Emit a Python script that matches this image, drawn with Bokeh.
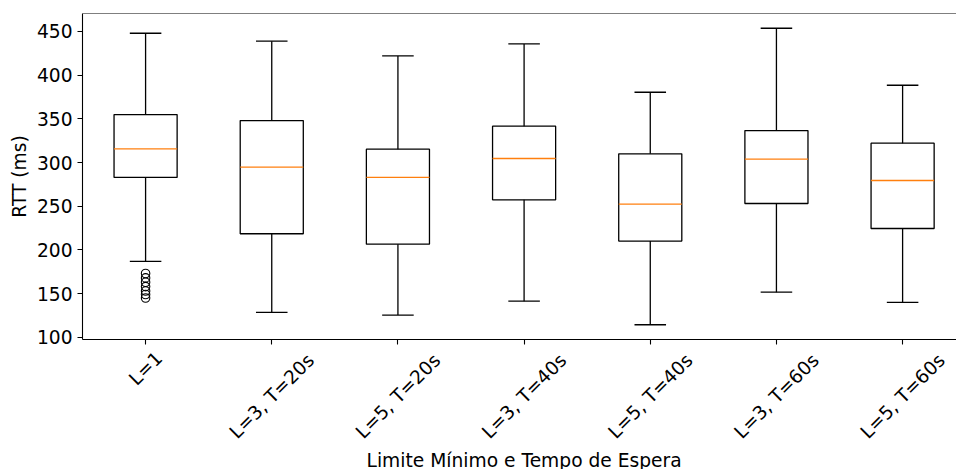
import math
from bokeh.plotting import figure
from bokeh.layouts import column
from bokeh.models import Range1d, FixedTicker, Span, ColumnDataSource
from bokeh.core.properties import value
from bokeh.embed import file_html
from bokeh.resources import INLINE

# ---- data ----
categories = ["L=1", "L=3, T=20s", "L=5, T=20s", "L=3, T=40s",
              "L=5, T=40s", "L=3, T=60s", "L=5, T=60s"]
whisker_low = [186.8, 128.5, 125.4, 141.4, 114.4, 151.7, 139.9]
q1 = [282.9, 218.5, 206.6, 257.3, 210.1, 253.1, 224.5]
median = [315.7, 294.7, 282.9, 304.6, 252.4, 303.8, 279.4]
q3 = [354.9, 348.0, 315.3, 341.6, 309.9, 336.6, 322.1]
whisker_high = [447.9, 438.8, 422.0, 435.7, 380.4, 453.6, 388.4]
outlier_group = [1, 1, 1, 1, 1, 1, 1]
outlier_values = [145, 149, 153, 158, 163, 168, 173]
y_ticks = [100, 150, 200, 250, 300, 350, 400, 450]
x_title = "Limite Mínimo e Tempo de Espera"
y_title = "RTT (ms)"

FONT = "DejaVu Sans"
FS = "14pt"
FS_PX = 18.67

pos = list(range(1, len(categories) + 1))
box_w = 0.5
cap_w = 0.25

src = ColumnDataSource(dict(
    x=pos,
    lo=whisker_low, q1=q1, med=median, q3=q3, hi=whisker_high,
    bl=[p - box_w / 2 for p in pos], br=[p + box_w / 2 for p in pos],
    cl=[p - cap_w / 2 for p in pos], cr=[p + cap_w / 2 for p in pos],
))

W = 956
FRAME_BOTTOM = 339
TOP_H = 349
y0, y1 = 97.5, 470.5
xr = Range1d(0.5, 0.5 + 874 / 126.17)

p = figure(width=W, height=TOP_H, output_backend="svg", toolbar_location=None,
           x_range=xr, y_range=Range1d(y0, y1),
           min_border_left=82, min_border_right=0, min_border_top=13,
           min_border_bottom=TOP_H - FRAME_BOTTOM)
p.outline_line_color = None
p.background_fill_color = "white"
p.border_fill_color = "white"
p.xgrid.grid_line_color = None
p.ygrid.grid_line_color = None

LW = 1.3
# whiskers
p.segment(x0="x", y0="q3", x1="x", y1="hi", source=src, line_color="black", line_width=LW)
p.segment(x0="x", y0="q1", x1="x", y1="lo", source=src, line_color="black", line_width=LW)
# caps
p.segment(x0="cl", y0="hi", x1="cr", y1="hi", source=src, line_color="black", line_width=LW)
p.segment(x0="cl", y0="lo", x1="cr", y1="lo", source=src, line_color="black", line_width=LW)
# boxes
p.quad(left="bl", right="br", bottom="q1", top="q3", source=src,
       fill_color=None, line_color="black", line_width=LW)
# medians
p.segment(x0="bl", y0="med", x1="br", y1="med", source=src, line_color="#ff7f0e", line_width=LW)
# outliers
p.scatter(x=outlier_group, y=outlier_values, marker="circle", size=8.5,
          fill_color=None, line_color="black", line_width=1.1)

# top spine
p.add_layout(Span(location=y1, dimension="width", line_color="black", line_width=1.1))

for ax in (p.xaxis[0], p.yaxis[0]):
    ax.axis_line_color = "black"
    ax.axis_line_width = 1.1
    ax.major_tick_line_color = "black"
    ax.major_tick_line_width = 1.1
    ax.major_tick_out = 5
    ax.major_tick_in = 0
    ax.minor_tick_line_color = None
    ax.major_label_text_font = FONT
    ax.major_label_text_font_size = FS
    ax.major_label_text_color = "black"
    ax.major_label_standoff = 5

p.yaxis.ticker = FixedTicker(ticks=y_ticks)
p.yaxis.axis_label = y_title
p.yaxis.axis_label_text_font = FONT
p.yaxis.axis_label_text_font_size = FS
p.yaxis.axis_label_text_font_style = "normal"
p.yaxis.axis_label_text_color = "black"
p.yaxis.axis_label_standoff = 4

# x axis: ticks only here; the rotated labels are drawn in the strip below
p.xaxis.ticker = FixedTicker(ticks=pos)
p.xaxis.major_label_overrides = {i: "" for i in pos}
p.xaxis.major_label_text_font_size = "0px"
p.xaxis.major_label_standoff = 0

# ---- lower strip: rotated category labels and x title ----
# y units = pixels below the main frame's bottom edge (negative downwards)
p2 = figure(width=W, height=469 - TOP_H, output_backend="svg", toolbar_location=None,
            x_range=xr, y_range=Range1d(-(469 - FRAME_BOTTOM), -(TOP_H - FRAME_BOTTOM)),
            x_axis_location=None, y_axis_location=None,
            min_border_left=82, min_border_right=0, min_border_top=0, min_border_bottom=0)
p2.xgrid.grid_line_color = None
p2.ygrid.grid_line_color = None
p2.outline_line_color = None
p2.background_fill_color = "white"
p2.border_fill_color = "white"

# bounding box of each rotated label centred on its tick (matplotlib style)
h = 1.164 * FS_PX
label_y = []
for lab in categories:
    w = 0.6 * len(lab) * FS_PX
    label_y.append(-(9.33 + (w + h) / (2 * math.sqrt(2))))
p2.text(x=pos, y=label_y, text=categories, angle=math.pi / 4,
        text_align="center", text_baseline="middle",
        text_font=value(FONT), text_font_size=value(FS), text_color="black")

p2.text(x=[4.0], y=[-120.5], text=[x_title], text_align="center",
        text_baseline="middle", text_font=value(FONT),
        text_font_size=value(FS), text_color="black")

layout = column(p, p2, spacing=0)
open("out.html", "w").write(file_html(layout, INLINE))
